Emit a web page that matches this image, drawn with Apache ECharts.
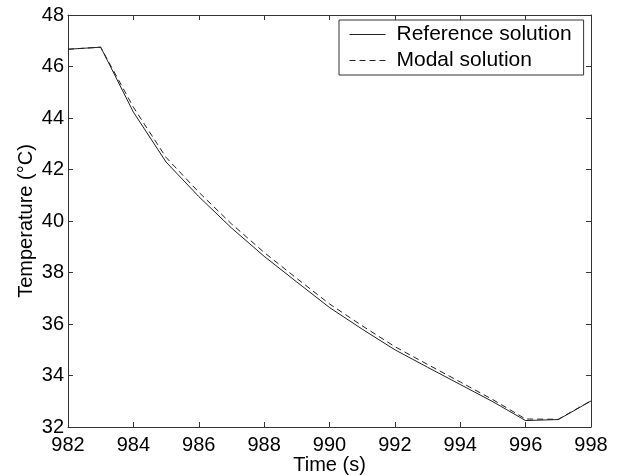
<!DOCTYPE html>
<html>
<head>
<meta charset="utf-8">
<script src="https://cdn.jsdelivr.net/npm/echarts@6/dist/echarts.min.js"></script>
<style>
  html, body { margin: 0; padding: 0; background: #fff; }
  #chart { width: 620px; height: 475px; }
</style>
</head>
<body>
<div id="chart"></div>
<script>
// time axis (s)
const times = [982, 983, 984, 985, 986, 987, 988, 989, 990, 991, 992, 993, 994, 995, 996, 997, 998]
// temperatures (°C)
const referenceTemp = [46.67, 46.75, 44.23, 42.29, 40.95, 39.73, 38.63, 37.63, 36.64, 35.80, 35.00, 34.32, 33.65, 32.98, 32.25, 32.29, 33.01]
const modalTemp = [46.67, 46.75, 44.42, 42.47, 41.12, 39.89, 38.78, 37.77, 36.78, 35.93, 35.12, 34.43, 33.75, 33.06, 32.31, 32.30, 33.02]

const FONT = "'Liberation Sans', Arial, Helvetica, sans-serif"
const AXIS_COLOR = '#333'

const chart = echarts.init(document.getElementById('chart'))

const frameAxis = (extra) => Object.assign({
  type: 'value',
  axisLine: { show: true, onZero: false, lineStyle: { color: AXIS_COLOR, width: 1 } },
  axisTick: { show: true, inside: true, length: 5, lineStyle: { color: AXIS_COLOR } },
  splitLine: { show: false }
}, extra)

const option = {
  animation: false,
  backgroundColor: '#fff',
  textStyle: { fontFamily: FONT },
  grid: { left: 68, right: 29, top: 15, bottom: 48, outerBoundsMode: 'none', containLabel: false },
  legend: {
    orient: 'vertical',
    left: 339,
    top: 20,
    padding: [4, 12, 4, 10],
    itemGap: 5,
    itemWidth: 36,
    itemHeight: 20,
    borderColor: '#333',
    borderWidth: 1,
    backgroundColor: '#fff',
    itemStyle: { color: 'transparent', borderWidth: 0 },
    lineStyle: { width: 1 },
    textStyle: { fontFamily: FONT, fontSize: 21, color: '#000', padding: [0, 0, 0, 6] },
    data: ['Reference solution', 'Modal solution']
  },
  xAxis: [
    frameAxis({
      position: 'bottom',
      min: 982, max: 998, interval: 2,
      name: 'Time (s)',
      nameLocation: 'middle',
      nameGap: 28,
      nameMoveOverlap: false,
      nameTextStyle: { fontFamily: FONT, fontSize: 20, color: '#000' },
      axisLabel: { fontFamily: FONT, fontSize: 20, color: '#000', margin: 8 }
    }),
    frameAxis({
      position: 'top',
      min: 982, max: 998, interval: 2,
      axisLabel: { show: false }
    })
  ],
  yAxis: [
    frameAxis({
      position: 'left',
      min: 32, max: 48, interval: 2,
      name: 'Temperature (°C)',
      nameLocation: 'middle',
      nameRotate: 90,
      nameGap: 32,
      nameMoveOverlap: false,
      nameTextStyle: { fontFamily: FONT, fontSize: 20, color: '#000' },
      axisLabel: { fontFamily: FONT, fontSize: 20, color: '#000', margin: 4 }
    }),
    frameAxis({
      position: 'right',
      min: 32, max: 48, interval: 2,
      axisLabel: { show: false }
    })
  ],
  series: [
    {
      name: 'Reference solution',
      type: 'line',
      data: times.map((t, i) => [t, referenceTemp[i]]),
      showSymbol: false,
      symbol: 'none',
      itemStyle: { color: '#222' },
      lineStyle: { color: '#222', width: 1 }
    },
    {
      name: 'Modal solution',
      type: 'line',
      data: times.map((t, i) => [t, modalTemp[i]]),
      showSymbol: false,
      symbol: 'none',
      itemStyle: { color: '#222' },
      lineStyle: { color: '#222', width: 1, type: [6, 4] }
    }
  ]
}

chart.setOption(option)
</script>
</body>
</html>
